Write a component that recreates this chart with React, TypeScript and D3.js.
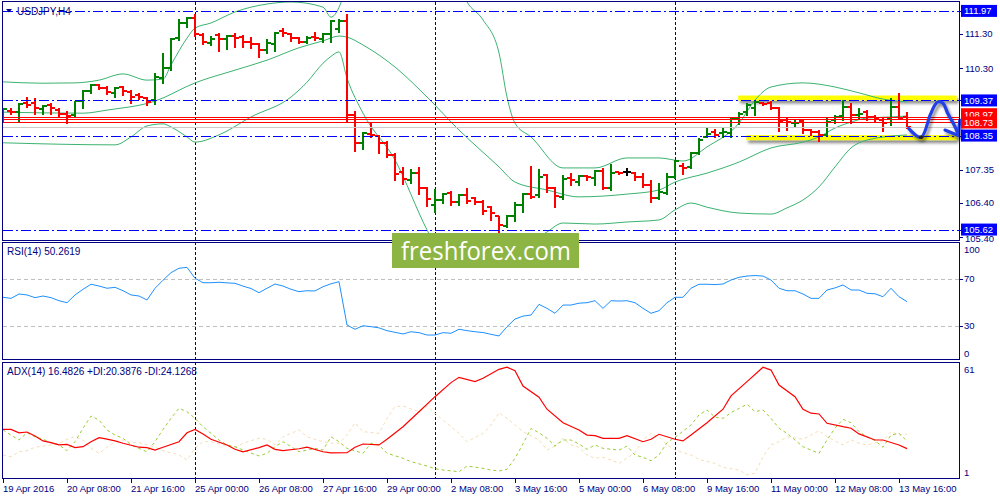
import React from 'react';
import * as d3 from 'd3';

// ---- Price bars (H4), 19 Apr 2016 00:00 .. 13 May 2016 20:00 ----
const barOpen = [
109.03,109.06,109.04,109.29,109.31,109.11,109.24,109.09,108.97,108.95,
109.36,109.65,109.82,109.73,109.60,109.77,109.62,109.53,109.43,109.38,
110.01,110.31,111.18,111.63,111.76,111.27,111.05,111.27,111.15,111.24,
111.22,111.08,111.00,110.84,111.01,111.39,111.30,111.19,111.08,111.22,
111.15,111.30,111.44,111.69,108.95,108.14,108.39,108.34,108.13,107.79,
107.29,107.06,107.27,106.82,106.33,106.48,106.69,106.43,106.62,106.53,
106.43,106.27,106.00,105.72,106.02,106.33,106.65,106.62,107.21,106.84,
106.58,107.11,107.01,107.18,107.11,107.33,106.82,107.29,107.30,107.27,
107.16,106.92,106.53,106.69,107.14,107.47,107.43,107.85,108.32,108.46,
108.43,108.43,108.85,109.04,109.14,109.29,109.29,109.14,108.80,108.71,
108.78,108.51,108.46,108.37,108.80,108.92,109.19,108.95,109.04,108.90,
108.80,108.85,109.17,108.90];
const barHigh = [
109.14,109.15,109.29,109.46,109.43,109.24,109.31,109.14,109.06,109.36,
109.67,109.85,109.85,109.79,109.75,109.80,109.67,109.58,109.48,110.16,
110.75,111.18,111.73,111.80,111.88,111.32,111.24,111.32,111.27,111.32,
111.27,111.20,111.03,111.15,111.37,111.46,111.32,111.22,111.24,111.37,
111.34,111.71,111.73,111.88,109.06,108.46,108.72,108.37,108.19,107.84,
107.45,107.37,107.43,106.85,106.79,106.69,106.74,106.65,106.82,106.56,
106.48,106.31,106.02,106.04,106.43,106.69,107.47,107.37,107.23,106.87,
107.21,107.25,107.21,107.21,107.35,107.40,107.52,107.30,107.40,107.30,
107.25,107.06,106.96,107.25,107.64,107.54,107.88,108.27,108.61,108.53,
108.61,108.90,109.04,109.29,109.38,109.33,109.36,109.19,108.85,108.80,
108.80,108.53,108.51,108.85,108.95,109.38,109.29,109.14,109.09,108.95,
108.85,109.43,109.58,109.04];
const barLow = [
108.75,108.98,108.78,109.19,108.99,108.99,108.98,108.92,108.72,108.92,
109.16,109.60,109.69,109.56,109.48,109.53,109.31,109.40,109.24,109.27,
109.88,110.25,111.13,111.51,111.24,111.01,110.98,110.82,110.85,110.93,
110.91,110.88,110.64,110.74,110.82,111.24,111.11,111.03,111.03,111.13,
111.08,111.08,111.37,108.75,107.91,107.95,108.32,107.85,107.74,107.06,
106.94,106.98,106.65,106.31,106.14,106.38,106.33,106.33,106.40,106.36,
106.07,105.90,105.56,105.69,105.88,106.14,106.53,106.56,106.72,106.27,
106.50,106.92,106.92,107.06,106.92,106.79,106.77,107.23,107.21,107.06,
106.87,106.43,106.50,106.65,107.11,107.23,107.40,107.82,108.30,108.30,
108.30,108.32,108.69,108.95,108.95,109.24,109.11,108.49,108.51,108.61,
108.43,108.37,108.20,108.34,108.71,108.80,108.71,108.85,108.80,108.75,
108.49,108.66,108.82,108.56];
const barClose = [
109.11,109.03,109.27,109.24,109.14,109.21,109.14,108.99,108.92,109.35,
109.65,109.83,109.72,109.62,109.73,109.65,109.48,109.48,109.33,110.04,
110.30,111.16,111.63,111.76,111.30,111.08,111.15,111.15,111.24,111.18,
111.08,111.01,110.84,111.05,111.34,111.32,111.19,111.08,111.18,111.18,
111.30,111.69,111.69,108.95,108.14,108.43,108.36,108.13,107.79,107.23,
107.08,107.27,106.82,106.50,106.48,106.65,106.43,106.62,106.45,106.43,
106.17,106.11,105.75,106.02,106.33,106.65,106.58,107.15,106.82,106.60,
107.08,107.06,107.18,107.16,107.33,106.82,107.27,107.25,107.30,107.16,
106.92,106.53,106.72,107.14,107.62,107.40,107.85,108.22,108.40,108.37,
108.46,108.85,108.99,109.24,109.33,109.27,109.14,108.78,108.75,108.72,
108.51,108.46,108.37,108.75,108.88,109.19,108.95,108.99,108.90,108.82,
108.72,109.17,108.85,108.61];

// ---- Bollinger bands: [bar, price] ----
const bbUpperA = [[0,109.91],[5,109.87],[9,109.88],[12,109.96],[15,110.14],[18,109.96],[20,109.99],[21,110.40],[23,111.18],[24,111.47],[26,111.62],[29,111.94],[33,112.17],[36,112.23],[40,112.08],[41,111.79],[43,112.70]];
const bbUpperB = [[57,112.70],[58,112.23],[60,111.71],[62,110.75],[63,109.47],[64,108.71],[66,108.31],[70,107.41],[74,107.41],[78,107.70],[82,107.70],[85,107.61],[88,108.02],[92,108.71],[94,109.38],[96,109.76],[100,109.88],[104,109.76],[107,109.59],[110,109.41],[113,109.33]];
const bbMiddle = [[0,109.03],[10,109.00],[13,109.09],[19,109.35],[24,109.88],[29,110.25],[33,110.54],[37,110.90],[40,111.10],[42,111.24],[43,111.21],[45,110.98],[49,110.34],[53,109.47],[57,108.51],[62,107.44],[64,107.00],[68,106.77],[72,106.57],[78,106.65],[82,106.77],[84,107.00],[88,107.26],[92,107.58],[96,107.99],[100,108.16],[102,108.31],[104,108.57],[106,108.74],[108,108.86],[111,108.89],[113,108.92]];
const bbLowerA = [[0,108.14],[14,108.08],[16,108.31],[18,108.63],[20,108.69],[21,108.60],[23,108.31],[24,108.16],[27,108.37],[31,108.89],[36,109.47],[38,109.90],[40,110.45],[41,110.65],[42,110.78],[43,110.02],[45,109.00],[49,107.64],[53,105.61],[54,105.17]];
const bbLowerB = [[66,105.17],[67,105.40],[68,105.55],[70,105.81],[74,105.78],[78,105.84],[82,105.90],[84,106.19],[86,106.39],[88,106.27],[92,106.10],[96,106.07],[98,106.25],[100,106.48],[102,106.86],[104,107.44],[106,107.99],[108,108.22],[113,108.37]];

// ---- RSI(14) per bar ----
const rsiValues = [
54.0,53.1,56.8,56.0,53.7,55.1,53.7,51.1,49.4,56.0,
60.8,65.1,63.6,61.7,62.5,59.6,56.0,55.1,51.7,61.7,
68.5,75.0,78.7,79.5,70.2,66.4,66.4,66.8,66.3,65.9,
63.5,61.5,57.9,61.7,65.3,63.6,60.8,58.8,59.6,59.4,
63.0,65.5,67.3,30.4,26.8,29.8,29.0,28.0,25.6,24.2,
22.8,24.7,23.9,21.9,21.9,23.9,23.4,26.8,25.6,24.7,
24.0,22.5,21.1,29.0,35.5,38.0,38.9,48.0,44.6,40.4,
47.4,47.4,49.0,49.4,51.1,44.6,51.1,50.8,51.1,49.4,
44.6,40.4,42.6,49.4,54.0,54.0,61.7,65.1,65.1,64.8,
65.3,68.7,71.0,72.1,72.5,72.1,68.7,61.7,59.6,59.6,
56.8,53.1,53.1,60.2,62.0,64.5,60.2,60.2,57.4,57.0,
54.5,61.7,54.5,50.3];
const rsiLevels = [70, 30];
const rsiAxis = [100, 70, 30, 0];

// ---- ADX(14): [bar, value] ----
const adxMain = [[0,26.6],[1,26.6],[2,24.8],[3,25.2],[4,23.1],[5,20.5],[6,19.6],[7,18.4],[8,18.7],[9,17.0],[10,17.5],[11,20.1],[12,22.2],[13,21.5],[14,20.5],[15,19.3],[17,17.2],[18,17.0],[19,15.7],[20,17.2],[22,20.1],[23,24.8],[24,26.6],[25,24.2],[26,21.4],[28,18.4],[29,16.1],[30,14.8],[32,17.0],[33,18.4],[34,16.1],[35,15.4],[37,16.4],[38,17.2],[40,14.8],[41,14.2],[43,14.3],[44,17.2],[45,18.9],[47,18.4],[48,21.4],[50,28.0],[52,35.9],[54,43.8],[56,51.2],[57,54.0],[59,51.7],[60,53.5],[62,58.2],[63,59.3],[64,57.5],[65,49.4],[67,43.5],[68,37.2],[70,30.1],[72,26.3],[73,23.6],[74,23.3],[75,21.9],[77,21.9],[78,23.3],[80,20.1],[81,21.4],[82,24.0],[84,21.4],[85,20.5],[86,23.6],[88,30.1],[90,37.2],[91,44.2],[93,51.7],[95,59.3],[96,57.8],[97,49.9],[99,43.8],[100,37.2],[101,35.1],[102,34.7],[103,29.8],[105,28.0],[106,27.2],[107,24.2],[109,21.0],[110,21.0],[112,18.4],[113,16.48]];
const adxPlus = [[0,26.3],[1,23.6],[2,21.0],[3,24.8],[4,22.7],[5,21.4],[6,19.6],[7,18.4],[8,15.4],[9,20.1],[10,27.2],[11,33.6],[12,31.5],[13,26.3],[14,23.6],[15,21.9],[16,18.4],[17,16.6],[18,14.8],[19,20.1],[20,26.6],[21,32.4],[22,37.7],[23,35.9],[24,32.4],[25,28.0],[26,24.5],[27,21.0],[28,18.4],[29,17.5],[30,15.7],[32,12.6],[33,14.0],[34,17.5],[35,20.1],[36,17.5],[37,14.8],[39,16.6],[40,15.7],[41,22.7],[42,20.1],[43,16.6],[45,14.0],[46,19.3],[47,18.4],[48,14.0],[50,11.4],[51,9.6],[53,7.3],[54,5.9],[55,5.2],[57,4.3],[58,7.3],[60,6.1],[61,5.2],[62,4.7],[63,5.6],[64,11.4],[65,19.0],[66,27.1],[67,24.8],[68,21.9],[69,17.8],[70,21.0],[71,21.0],[72,18.9],[73,16.1],[74,18.4],[75,16.6],[77,15.7],[78,17.8],[79,13.1],[80,11.9],[81,10.1],[82,13.1],[83,19.6],[84,22.4],[86,28.9],[87,34.2],[88,36.8],[89,33.0],[90,32.4],[91,35.4],[93,39.8],[94,35.9],[95,36.8],[96,32.4],[97,27.2],[98,24.5],[100,17.5],[101,15.7],[102,14.0],[103,21.0],[104,27.2],[105,31.9],[106,30.1],[107,25.4],[108,22.8],[109,20.7],[110,17.2],[111,23.6],[112,24.5],[113,20.39]];
const adxMinus = [[0,13.1],[1,12.2],[2,14.8],[3,15.4],[4,17.2],[5,17.8],[6,18.4],[7,19.3],[8,21.4],[9,22.7],[10,21.0],[11,16.6],[12,14.0],[13,17.2],[14,20.1],[15,21.0],[16,19.6],[17,19.6],[19,17.2],[20,15.4],[22,13.1],[23,10.5],[24,16.6],[25,20.1],[26,20.1],[28,17.8],[29,17.2],[30,19.3],[32,21.9],[33,21.4],[34,18.4],[35,22.7],[37,26.3],[38,22.7],[40,20.1],[41,19.3],[42,19.3],[43,23.6],[44,30.1],[45,25.4],[47,24.5],[48,32.4],[49,38.5],[50,38.9],[52,35.9],[53,38.9],[54,35.1],[55,31.5],[57,24.5],[58,20.1],[60,24.5],[61,28.9],[62,35.4],[63,32.4],[64,28.9],[65,25.4],[67,21.0],[68,15.7],[69,17.8],[70,21.9],[71,18.4],[72,17.2],[73,13.1],[74,11.4],[75,11.9],[76,10.5],[77,8.7],[79,14.3],[80,21.0],[81,24.5],[82,22.7],[83,18.4],[84,15.7],[86,13.1],[87,10.8],[89,8.7],[90,6.6],[92,5.2],[93,2.6],[94,3.5],[95,12.2],[96,18.4],[97,20.1],[98,22.7],[100,21.4],[101,23.6],[102,25.9],[103,22.7],[105,18.4],[106,21.0],[107,19.3],[108,18.4],[110,20.6],[111,25.4],[112,23.6],[113,24.13]];
const adxAxis = [61, 1];

// ---- Axis / annotation values ----
const timeLabels = ['19 Apr 2016','20 Apr 08:00','21 Apr 16:00','25 Apr 00:00','26 Apr 08:00','27 Apr 16:00','29 Apr 00:00','2 May 08:00','3 May 16:00','5 May 00:00','6 May 08:00','9 May 16:00','11 May 00:00','12 May 08:00','13 May 16:00'];
const timeLabelBars = [0,8,16,24,32,40,48,56,64,72,80,88,96,104,112];
const daySeparatorBars = [24,54,84];
const priceTicks = [111.30,110.30,107.35,106.40,105.40];
const levelPrices = [111.97,109.37,108.35,105.62];
const redLinePrices = [108.88,108.82,108.73];
const redLabelPrices = [108.97,108.73];
const bidPrice = 108.61;
const zoneTop = { from: 91.9, to: 119.2, price: 109.44 };
const zoneBottom = { from: 92.9, to: 119.2, price: 108.29 };
const handPath = [[113.2,108.56],[114.75,108.30],[115.9,108.95],[116.5,109.24],[116.9,109.33],[117.5,109.29],[118.1,108.99],[119.0,108.61],[119.4,108.37]];
const handHead = [[117.75,108.51],[119.4,108.35],[119.6,108.80]];

export default function App() {
  const W = 1000, H = 500;
  const navy = '#000080';
  const font = '"Liberation Sans", Arial, sans-serif';
  const x = d3.scaleLinear().domain([0, 113]).range([3, 907]);
  const yP = d3.scaleLinear().domain([105.317, 112.229]).range([240, 2]);
  const yR = d3.scaleLinear().domain([0, 100]).range([360.75, 243.25]);
  const yA = d3.scaleLinear().domain([1, 61]).range([478, 364]);
  const crisp = (v: number) => Math.round(v) + 0.5;

  const bb = d3.line<number[]>().x(d => x(d[0])).y(d => yP(d[1])).curve(d3.curveMonotoneX);
  const rsiLine = d3.line<number>().x((_, i) => x(i)).y(d => yR(d));
  const adxLine = d3.line<number[]>().x(d => x(d[0])).y(d => yA(d[1]));
  const hand = d3.line<number[]>().x(d => x(d[0])).y(d => yP(d[1])).curve(d3.curveCatmullRom.alpha(0.5));
  const headLine = d3.line<number[]>().x(d => x(d[0])).y(d => yP(d[1]));

  const box = (p: number, fill: string, key: string) => {
    const cy = yP(p);
    return (
      <g key={key}>
        <rect x={961} y={cy - 6} width={36} height={12} fill={fill} />
        <text x={964} y={cy + 3.5} fontSize={9.5} fill="#fff" fontFamily={font}>{p.toFixed(2)}</text>
      </g>
    );
  };

  return (
    <svg width={W} height={H} style={{ position: 'absolute', left: 0, top: 0, background: '#fff' }}>
      <defs>
        <clipPath id="cMain"><rect x={3} y={2} width={956} height={238} /></clipPath>
        <clipPath id="cRsi"><rect x={3} y={243} width={956} height={116} /></clipPath>
        <clipPath id="cAdx"><rect x={3} y={363} width={956} height={115} /></clipPath>
        <filter id="shadow" filterUnits="userSpaceOnUse" x={0} y={0} width={1000} height={500}>
          <feDropShadow dx={2} dy={3} stdDeviation={1.6} floodColor="#000" floodOpacity={0.45} />
        </filter>
      </defs>
      <rect x={0} y={0} width={W} height={H} fill="#fff" />

      {/* day separators */}
      {daySeparatorBars.map(b => (
        <line key={'ds' + b} x1={crisp(x(b))} x2={crisp(x(b))} y1={2} y2={479} stroke={navy} strokeWidth={1} strokeDasharray="3,2" />
      ))}

      {/* main panel */}
      <g clipPath="url(#cMain)">
        {[zoneTop, zoneBottom].map((z, k) => (
          <rect key={'z' + k} x={x(z.from)} width={x(z.to) - x(z.from)} y={yP(z.price) - 2.5} height={5} fill="#ffff00" filter="url(#shadow)" />
        ))}
        {[bbUpperA, bbUpperB, bbMiddle, bbLowerA, bbLowerB].map((s, k) => (
          <path key={'bb' + k} d={bb(s) || ''} fill="none" stroke="#3cb371" strokeWidth={1} />
        ))}
        {barOpen.map((o, i) => {
          const c = barClose[i];
          const col = c > o ? '#008000' : c < o ? '#ff0000' : '#000000';
          const cx = Math.round(x(i));
          const yo = Math.round(yP(o));
          const yc = Math.round(yP(c));
          return (
            <g key={'b' + i} stroke={col} strokeWidth={2}>
              <line x1={cx} x2={cx} y1={Math.round(yP(barHigh[i]))} y2={Math.round(yP(barLow[i])) + 1} />
              <line x1={cx - 4} x2={cx} y1={yo} y2={yo} />
              <line x1={cx} x2={cx + 4} y1={yc} y2={yc} />
            </g>
          );
        })}
        <line x1={3} x2={959} y1={crisp(yP(bidPrice))} y2={crisp(yP(bidPrice))} stroke="#cccccc" strokeWidth={1} />
        {redLinePrices.map(p => (
          <line key={'r' + p} x1={3} x2={959} y1={crisp(yP(p))} y2={crisp(yP(p))} stroke="#ff0000" strokeWidth={1} />
        ))}
        {levelPrices.map(p => (
          <line key={'l' + p} x1={3} x2={959} y1={crisp(yP(p))} y2={crisp(yP(p))} stroke="#0000ff" strokeWidth={1} strokeDasharray="10,3,2,3" />
        ))}
      </g>
      <g filter="url(#shadow)">
        <path d={hand(handPath) || ''} fill="none" stroke="#2040e6" strokeWidth={3.2} strokeLinecap="round" strokeLinejoin="round" />
        <path d={headLine(handHead) || ''} fill="none" stroke="#2040e6" strokeWidth={3.2} strokeLinecap="round" strokeLinejoin="round" />
        <ellipse cx={x(114.75)} cy={yP(108.30)} rx={2.5} ry={1.8} fill="#222" />
      </g>

      {/* RSI */}
      <g clipPath="url(#cRsi)">
        {rsiLevels.map(v => (
          <line key={'rl' + v} x1={3} x2={959} y1={crisp(yR(v))} y2={crisp(yR(v))} stroke="#c0c0c0" strokeWidth={1} strokeDasharray="4,3" />
        ))}
        <path d={rsiLine(rsiValues) || ''} fill="none" stroke="#1e90ff" strokeWidth={1} />
      </g>

      {/* ADX */}
      <g clipPath="url(#cAdx)">
        <path d={adxLine(adxMinus) || ''} fill="none" stroke="#f5deb3" strokeWidth={1} strokeDasharray="3,3" />
        <path d={adxLine(adxPlus) || ''} fill="none" stroke="#9acd32" strokeWidth={1} strokeDasharray="3,3" />
        <path d={adxLine(adxMain) || ''} fill="none" stroke="#ff0000" strokeWidth={1.2} />
      </g>

      {/* frames */}
      <rect x={2.5} y={1.5} width={957} height={239} fill="none" stroke={navy} strokeWidth={1} />
      <rect x={2.5} y={242.5} width={957} height={117} fill="none" stroke={navy} strokeWidth={1} />
      <rect x={2.5} y={362.5} width={957} height={116} fill="none" stroke={navy} strokeWidth={1} />

      {/* title & legends */}
      <path d="M6,9 L12,9 L9,12.5 Z" fill={navy} />
      <text x={17} y={14.5} fontSize={10} fill={navy} fontFamily={font}>USDJPY,H4</text>
      <text x={7} y={255} fontSize={10} fill={navy} fontFamily={font}>RSI(14) 50.2619</text>
      <text x={7} y={375} fontSize={10} fill={navy} fontFamily={font}>ADX(14) 16.4826 +DI:20.3876 -DI:24.1268</text>

      {/* price axis */}
      {priceTicks.map(p => (
        <g key={'pt' + p}>
          <line x1={959} x2={963} y1={crisp(yP(p))} y2={crisp(yP(p))} stroke={navy} />
          <text x={965} y={yP(p) + (p === 105.40 ? 5 : 3.5)} fontSize={9.5} fill={navy} fontFamily={font}>{p.toFixed(2)}</text>
        </g>
      ))}
      {levelPrices.map(p => (
        <line key={'lt' + p} x1={959} x2={963} y1={crisp(yP(p))} y2={crisp(yP(p))} stroke={navy} />
      ))}
      {box(redLabelPrices[0], '#ff0000', 'rb0')}
      {box(redLabelPrices[1], '#ff0000', 'rb1')}
      {levelPrices.map(p => box(p, '#0000ff', 'bb' + p))}

      {/* RSI axis */}
      {rsiAxis.map(v => {
        const yy = v === 100 ? yR(v) + 6 : v === 0 ? yR(v) - 7 : yR(v);
        return (
          <g key={'ra' + v}>
            {v === 70 || v === 30 ? <line x1={959} x2={963} y1={crisp(yR(v))} y2={crisp(yR(v))} stroke={navy} /> : null}
            <text x={964} y={yy + 3.5} fontSize={9.5} fill={navy} fontFamily={font}>{v}</text>
          </g>
        );
      })}
      {/* ADX axis */}
      {adxAxis.map(v => (
        <text key={'aa' + v} x={964} y={(v === 61 ? yA(v) + 5.5 : yA(v) - 5.5) + 3.5} fontSize={9.5} fill={navy} fontFamily={font}>{v}</text>
      ))}

      {/* time axis */}
      {timeLabelBars.map((b, k) => (
        <g key={'tl' + b}>
          <line x1={crisp(x(b))} x2={crisp(x(b))} y1={479} y2={483} stroke={navy} />
          <text x={x(b)} y={492} fontSize={9.5} fill={navy} fontFamily={font}>{timeLabels[k]}</text>
        </g>
      ))}

      {/* logo */}
      <rect x={392} y={233} width={187} height={35} fill="#8db543" />
      <text x={401} y={259.5} fontSize={26} fill="#ffffff" fontFamily='"Open Sans", "Noto Sans", sans-serif' textLength={170} lengthAdjust="spacingAndGlyphs">freshforex.com</text>
    </svg>
  );
}
